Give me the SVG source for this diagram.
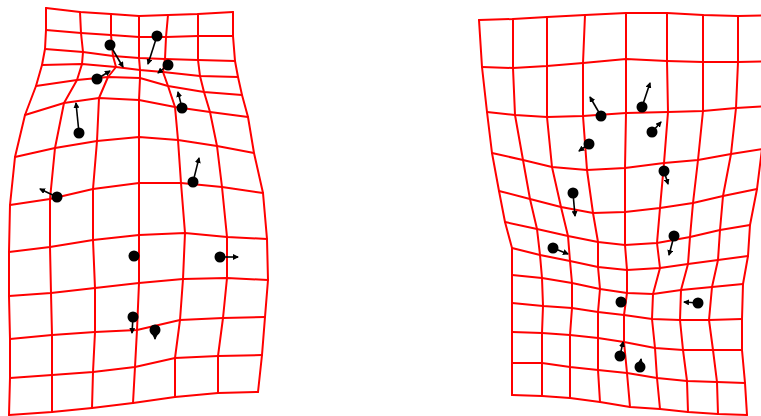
<svg xmlns="http://www.w3.org/2000/svg" width="761" height="416" viewBox="0 0 761 416">
<defs>
<marker id="ah" markerWidth="6" markerHeight="6" refX="5" refY="3" orient="auto" markerUnits="userSpaceOnUse"><path d="M0,0 L6,3 L0,6 z" fill="#000"/></marker>
</defs>
<style>
.g{fill:none;stroke:#ff0000;stroke-width:2;stroke-linejoin:round;stroke-linecap:round}
.a{fill:none;stroke:#000;stroke-width:1.6;marker-end:url(#ah)}
.d{fill:#000}
</style>
<rect width="761" height="416" fill="#fff"/>
<g id="grid-left" class="g">
<polyline points="46,8 80,12 111,14 139,16 168,15 198,14 233,12"/>
<polyline points="46,30 81,33 111,35 139,37 166,37 198,36 233,36"/>
<polyline points="45,49 83,52 113,56 139,58 165,59 198,60 235,61"/>
<polyline points="42,65 82,64 116,67 140,70 163,72 200,76 238,77"/>
<polyline points="36,86 77,80 108,77 140,78 168,86 204,92 242,95"/>
<polyline points="25,115 64,103 99,98 139,100 175,107 210,112 248,117"/>
<polyline points="15,157 55,148 97,141 139,137 178,140 217,146 254,153"/>
<polyline points="10,205 50,199 93,189 139,183 181,183 222,187 263,193"/>
<polyline points="9,252 50,247 93,240 139,235 185,233 227,237 267,239"/>
<polyline points="9,296 51,293 95,288 139,283 183,279 227,278 268,280"/>
<polyline points="10,339 52,335 95,332 137,330 180,320 223,318 265,317"/>
<polyline points="10,378 52,375 93,372 135,367 175,358 218,356 262,355"/>
<polyline points="9,415 52,412 92,408 133,403 175,397 218,393 258,392"/>
<polyline points="46,8 46,30 45,49 42,65 36,86 25,115 15,157 10,205 9,252 9,296 10,339 10,378 9,415"/>
<polyline points="80,12 81,33 83,52 82,64 77,80 64,103 55,148 50,199 50,247 51,293 52,335 52,375 52,412"/>
<polyline points="111,14 111,35 113,56 116,67 108,77 99,98 97,141 93,189 93,240 95,288 95,332 93,372 92,408"/>
<polyline points="139,16 139,37 139,58 140,70 140,78 139,100 139,137 139,183 139,235 139,283 137,330 135,367 133,403"/>
<polyline points="168,15 166,37 165,59 163,72 168,86 175,107 178,140 181,183 185,233 183,279 180,320 175,358 175,397"/>
<polyline points="198,14 198,36 198,60 200,76 204,92 210,112 217,146 222,187 227,237 227,278 223,318 218,356 218,393"/>
<polyline points="233,12 233,36 235,61 238,77 242,95 248,117 254,153 263,193 267,239 268,280 265,317 262,355 258,392"/>
</g>
<g id="grid-right" class="g">
<polyline points="479,20 513,19 547,17 585,15 626,13 667,13 703,15 738,16 775,15"/>
<polyline points="482,67 513,68 547,66 583,63 626,59 667,61 703,62 738,62 775,61"/>
<polyline points="487,112 515,115 547,117 583,116 626,113 668,112 703,111 736,108 772,106"/>
<polyline points="492,153 523,160 552,167 587,170 625,168 664,163 698,160 731,154 762,149"/>
<polyline points="499,191 530,199 561,207 593,213 625,212 660,208 693,203 723,196 757,189"/>
<polyline points="505,222 537,229 568,236 598,242 625,245 657,243 690,237 720,230 750,225"/>
<polyline points="512,248 540,255 570,261 598,267 627,270 660,268 688,264 718,260 748,256"/>
<polyline points="512,275 542,278 572,283 600,289 627,293 653,294 681,290 712,287 743,284"/>
<polyline points="512,303 543,306 572,308 598,312 624,315 652,319 680,320 709,320 742,319"/>
<polyline points="512,332 542,333 570,335 598,338 624,342 655,348 683,350 713,350 742,350"/>
<polyline points="512,363 542,363 570,367 598,370 627,373 657,378 687,381 717,382 745,383"/>
<polyline points="512,395 542,396 570,398 600,402 630,407 660,409 688,412 718,414 747,415"/>
<polyline points="479,20 482,67 487,112 492,153 499,191 505,222 512,248 512,275 512,303 512,332 512,363 512,395"/>
<polyline points="513,19 513,68 515,115 523,160 530,199 537,229 540,255 542,278 543,306 542,333 542,363 542,396"/>
<polyline points="547,17 547,66 547,117 552,167 561,207 568,236 570,261 572,283 572,308 570,335 570,367 570,398"/>
<polyline points="585,15 583,63 583,116 587,170 593,213 598,242 598,267 600,289 598,312 598,338 598,370 600,402"/>
<polyline points="626,13 626,59 626,113 625,168 625,212 625,245 627,270 627,293 624,315 624,342 627,373 630,407"/>
<polyline points="667,13 667,61 668,112 664,163 660,208 657,243 660,268 653,294 652,319 655,348 657,378 660,409"/>
<polyline points="703,15 703,62 703,111 698,160 693,203 690,237 688,264 681,290 680,320 683,350 687,381 688,412"/>
<polyline points="738,16 738,62 736,108 731,154 723,196 720,230 718,260 712,287 709,320 713,350 717,382 718,414"/>
<polyline points="775,15 775,61 772,106 762,149 757,189 750,225 748,256 743,284 742,319 742,350 745,383 747,415"/>
</g>
<g id="arrows">
<line class="a" x1="110" y1="45" x2="123" y2="67"/>
<line class="a" x1="157" y1="36" x2="148" y2="64"/>
<line class="a" x1="168" y1="65" x2="158" y2="73"/>
<line class="a" x1="97" y1="79" x2="110" y2="71"/>
<line class="a" x1="79" y1="133" x2="76" y2="103"/>
<line class="a" x1="182" y1="108" x2="178" y2="92"/>
<line class="a" x1="193" y1="182" x2="199" y2="158"/>
<line class="a" x1="57" y1="197" x2="40" y2="189"/>
<line class="a" x1="220" y1="257" x2="238" y2="257"/>
<line class="a" x1="133" y1="317" x2="132" y2="333"/>
<line class="a" x1="155" y1="330" x2="155" y2="339"/>
<line class="a" x1="601" y1="116" x2="590" y2="97"/>
<line class="a" x1="642" y1="107" x2="650" y2="83"/>
<line class="a" x1="652" y1="132" x2="661" y2="122"/>
<line class="a" x1="589" y1="144" x2="579" y2="151"/>
<line class="a" x1="664" y1="171" x2="668" y2="184"/>
<line class="a" x1="573" y1="193" x2="575" y2="216"/>
<line class="a" x1="674" y1="236" x2="669" y2="255"/>
<line class="a" x1="553" y1="248" x2="568" y2="254"/>
<line class="a" x1="698" y1="303" x2="684" y2="302"/>
<line class="a" x1="620" y1="356" x2="623" y2="342"/>
<line class="a" x1="640" y1="367" x2="641" y2="359"/>
</g>
<g id="dots-left" class="d">
<circle id="pl1" cx="110" cy="45" r="5.5"/>
<circle id="pl2" cx="157" cy="36" r="5.5"/>
<circle id="pl3" cx="168" cy="65" r="5.5"/>
<circle id="pl4" cx="97" cy="79" r="5.5"/>
<circle id="pl5" cx="79" cy="133" r="5.5"/>
<circle id="pl6" cx="182" cy="108" r="5.5"/>
<circle id="pl7" cx="193" cy="182" r="5.5"/>
<circle id="pl8" cx="57" cy="197" r="5.5"/>
<circle id="pl9" cx="134" cy="256" r="5.5"/>
<circle id="pl10" cx="220" cy="257" r="5.5"/>
<circle id="pl11" cx="133" cy="317" r="5.5"/>
<circle id="pl12" cx="155" cy="330" r="5.5"/>
</g>
<g id="dots-right" class="d">
<circle id="pr1" cx="601" cy="116" r="5.5"/>
<circle id="pr2" cx="642" cy="107" r="5.5"/>
<circle id="pr3" cx="652" cy="132" r="5.5"/>
<circle id="pr4" cx="589" cy="144" r="5.5"/>
<circle id="pr5" cx="664" cy="171" r="5.5"/>
<circle id="pr6" cx="573" cy="193" r="5.5"/>
<circle id="pr7" cx="674" cy="236" r="5.5"/>
<circle id="pr8" cx="553" cy="248" r="5.5"/>
<circle id="pr9" cx="621" cy="302" r="5.5"/>
<circle id="pr10" cx="698" cy="303" r="5.5"/>
<circle id="pr11" cx="620" cy="356" r="5.5"/>
<circle id="pr12" cx="640" cy="367" r="5.5"/>
</g>
</svg>
